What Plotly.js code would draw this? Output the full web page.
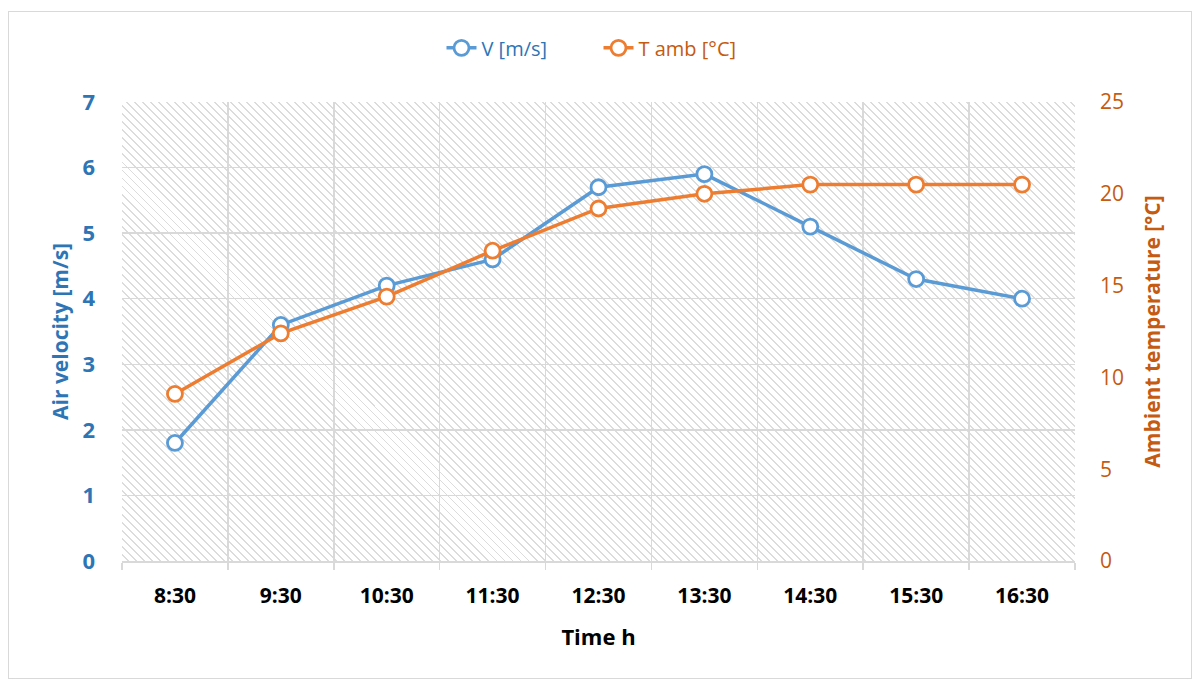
<!DOCTYPE html>
<html><head><meta charset="utf-8">
<script src="https://cdn.plot.ly/plotly-3.0.1.min.js"></script>
<style>
body{margin:0;background:#fff;}
#wrap{position:relative;width:1192px;height:679px;}
#bg{position:absolute;left:122px;top:102px;width:953px;height:459px;
background:repeating-linear-gradient(45deg,#ffffff 0px,#ffffff 4.1px,#dcdcdc 4.1px,#dcdcdc 5.5px,#ffffff 5.5px,#ffffff 5.66px);}
#frame{position:absolute;left:8px;top:11px;width:1182px;height:666px;border:1px solid #d9d9d9;pointer-events:none;}
#chart{position:absolute;left:0;top:0;width:1192px;height:679px;}
</style></head>
<body><div id="wrap"><div id="bg"></div><div id="frame"></div><div id="chart"></div></div>
<script>
const times = ["8:30","9:30","10:30","11:30","12:30","13:30","14:30","15:30","16:30"];
const velocity = [1.8,3.6,4.2,4.6,5.7,5.9,5.1,4.3,4.0];
const tAmb = [9.1,12.4,14.4,16.9,19.2,20.0,20.5,20.5,20.5];

const F = "'Open Sans', 'Noto Sans', sans-serif";
const traces = [
 {x:times,y:velocity,name:'<span style="color:#2E75B6">V [m/s]</span>',type:'scatter',mode:'lines+markers',
  line:{color:'#5B9BD5',width:3.5},marker:{symbol:'circle',size:15,color:'#ffffff',line:{color:'#5B9BD5',width:2.8}},yaxis:'y'},
 {x:times,y:tAmb,name:'<span style="color:#C55A11">T amb [°C]</span>',type:'scatter',mode:'lines+markers',
  line:{color:'#ED7D31',width:3.5},marker:{symbol:'circle',size:15,color:'#ffffff',line:{color:'#ED7D31',width:2.8}},yaxis:'y2'}
];
const layout = {
 width:1192,height:679,margin:{l:122,r:117,t:102,b:118},
 paper_bgcolor:'rgba(0,0,0,0)',plot_bgcolor:'rgba(0,0,0,0)',
 font:{family:F,size:20,color:'#000'},
 showlegend:true,
 legend:{orientation:'h',x:0.5,xanchor:'center',y:1.118,yanchor:'middle',font:{size:20,family:F},
  entrywidth:112,entrywidthmode:'pixels'},
 xaxis:{type:'category',range:[-0.5,8.5],tickson:'boundaries',showgrid:true,gridcolor:'#d9d9d9',gridwidth:1.5,
  ticks:'outside',ticklen:7,tickcolor:'#d9d9d9',tickwidth:1.5,showline:true,linecolor:'#d9d9d9',linewidth:1.5,
  ticklabelstandoff:15,
  tickfont:{family:F,size:21,color:'#000',weight:'bold'},
  title:{text:'<b>Time h</b>',font:{family:F,size:22,color:'#000'},standoff:22}},
 yaxis:{range:[0,7],dtick:1,showgrid:true,gridcolor:'#d9d9d9',gridwidth:1.5,zeroline:false,showline:false,ticks:'',
  ticklabelstandoff:26,
  tickfont:{family:F,size:22,color:'#2E75B6',weight:'bold'},
  title:{text:'<b>Air velocity [m/s]</b>',font:{family:F,size:21,color:'#2E75B6'},standoff:8}},
 yaxis2:{overlaying:'y',side:'right',range:[0,25],dtick:5,showgrid:false,zeroline:false,showline:false,ticks:'',
  ticklabelstandoff:24,
  tickfont:{family:F,size:21,color:'#C55A11'},
  title:{text:'<b>Ambient temperature [°C]</b>',font:{family:F,size:21,color:'#C55A11'},standoff:22}}
};
Plotly.newPlot('chart',traces,layout,{displayModeBar:false,staticPlot:true});
</script></body></html>
